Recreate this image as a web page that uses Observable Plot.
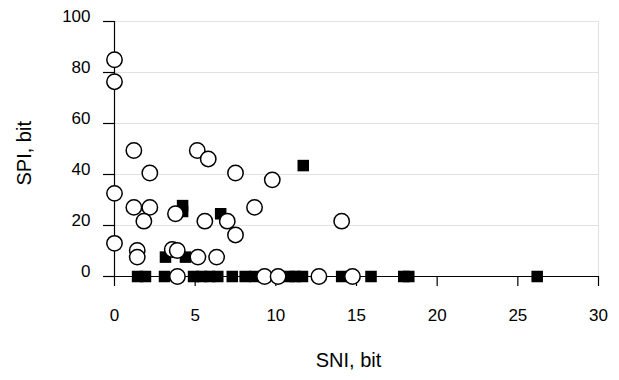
<!DOCTYPE html>
<html>
<head>
<meta charset="utf-8">
<script src="https://cdn.jsdelivr.net/npm/d3@7"></script>
<script src="https://cdn.jsdelivr.net/npm/@observablehq/plot@0.6"></script>
<style>
  html, body { margin: 0; padding: 0; background: #fff; }
  #chart { width: 619px; height: 380px; }
</style>
</head>
<body>
<div id="chart"></div>
<script>
// Open circles series
const circleX = [0, 0, 0, 0, 1.2, 2.19, 1.2, 2.19, 1.82, 1.41, 1.41, 3.78, 3.58, 3.89, 3.9,
  5.13, 5.81, 5.6, 5.17, 6.33, 6.99, 7.5, 7.5, 8.68, 9.78, 9.3, 10.14, 12.67, 14.08, 14.75];
const circleY = [85, 76.4, 32.6, 13.0, 49.4, 40.6, 27.1, 27.1, 21.7, 10.2, 7.6, 24.6, 10.6, 10.2, 0,
  49.4, 46.1, 21.7, 7.6, 7.6, 21.7, 40.6, 16.3, 27.1, 37.9, 0, 0, 0, 21.7, 0];

// Filled squares series
const squareX = [4.22, 4.22, 6.58, 11.7, 3.16, 4.4,
  1.43, 1.92, 3.1, 4.9, 5.4, 5.9, 6.4, 7.3, 8.1, 8.7, 10.85, 11.2, 11.65, 14.08, 15.9, 17.93, 18.24, 26.2];
const squareY = [27.8, 25.5, 24.6, 43.5, 7.6, 7.6,
  0, 0, 0, 0, 0, 0, 0, 0, 0, 0, 0, 0, 0, 0, 0, 0, 0, 0];

const xTicks = [0, 5, 10, 15, 20, 25, 30];
const yTicks = [0, 20, 40, 60, 80, 100];
const xTitle = "SNI, bit";
const yTitle = "SPI, bit";

const circles = circleX.map((x, i) => ({x, y: circleY[i]}));
const squares = squareX.map((x, i) => ({x, y: squareY[i]}));

const chart = Plot.plot({
  width: 619,
  height: 380,
  marginLeft: 114,
  marginRight: 21,
  marginTop: 21,
  marginBottom: 104,
  style: {fontFamily: "'Liberation Sans', Arial, sans-serif", color: "black", background: "white"},
  x: {domain: [0, 30]},
  y: {domain: [0, 100]},
  marks: [
    Plot.gridY(yTicks.filter(d => d > 0), {stroke: "#e2e2e2", strokeOpacity: 1}),
    Plot.gridX([30], {stroke: "#e2e2e2", strokeOpacity: 1}),
    Plot.ruleY([0], {stroke: "black", strokeWidth: 1.2}),
    Plot.ruleX([0], {y1: 0, y2: 100, stroke: "black", strokeWidth: 1.2}),
    Plot.axisY({ticks: yTicks, tickSize: 11, tickFormat: () => "", label: null, stroke: "black", strokeWidth: 1.2}),
    Plot.axisY({ticks: yTicks, tickSize: 0, tickPadding: 24, dy: -5, fontSize: 17, label: null}),
    Plot.axisX({ticks: xTicks, tickSize: 10, tickPadding: 22, fontSize: 17, label: null, stroke: "black", strokeWidth: 1.2}),
    Plot.dot(squares, {x: "x", y: "y", symbol: "square", r: 6.5, fill: "black"}),
    Plot.dot(circles, {x: "x", y: "y", r: 7.7, fill: "white", stroke: "black", strokeWidth: 1.5}),
    Plot.text([xTitle], {frameAnchor: "bottom", dx: -8, dy: 90, fontSize: 20, text: d => d}),
    Plot.text([yTitle], {frameAnchor: "left", rotate: -90, dx: -90, dy: 36.5, fontSize: 20, text: d => d})
  ]
});
document.getElementById("chart").appendChild(chart);
</script>
</body>
</html>
